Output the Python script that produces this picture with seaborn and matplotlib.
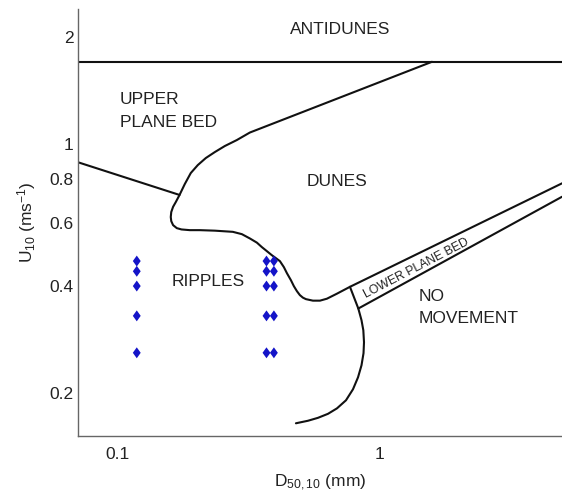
import matplotlib
matplotlib.use("Agg")
import matplotlib.pyplot as plt
import seaborn as sns
import pandas as pd
from matplotlib.ticker import NullFormatter
from matplotlib.path import Path
from matplotlib.markers import MarkerStyle

# ---------------- data ----------------
antidune_x = [0.07, 5.0]
antidune_y = [1.70, 1.70]

upb_x = [0.07, 0.172]
upb_y = [0.89, 0.72]

dune_x = [1.59, 0.3196, 0.2849, 0.2563, 0.2348, 0.2168, 0.2020, 0.1899, 0.1801, 0.172,
          0.1664, 0.1625, 0.1599, 0.1592, 0.1599, 0.1625, 0.1679, 0.175, 0.1883, 0.2056,
          0.2348, 0.2751, 0.2978, 0.3196, 0.3400, 0.3553, 0.3713, 0.388, 0.4020, 0.4165,
          0.4313, 0.443, 0.4589, 0.471, 0.4838, 0.4967, 0.5101, 0.5238, 0.557, 0.5926,
          0.630, 0.688, 0.772, 5.0]
dune_y = [1.70, 1.077, 1.026, 0.9872, 0.9496, 0.9136, 0.8730, 0.8293, 0.7722, 0.72,
          0.6877, 0.667, 0.6449, 0.6243, 0.6081, 0.5926, 0.5812, 0.5763, 0.5737, 0.5737,
          0.5718, 0.5675, 0.5591, 0.5438, 0.5293, 0.5142, 0.5010, 0.488, 0.4789, 0.4697,
          0.4519, 0.4346, 0.4154, 0.3997, 0.3870, 0.3772, 0.3711, 0.3676, 0.364, 0.364,
          0.3686, 0.3807, 0.398, 0.776]

nomove_x = [0.772, 0.831, 0.8547, 0.8685, 0.8737, 0.870, 0.8547, 0.8289, 0.7929, 0.7455,
            0.6887, 0.6362, 0.5822, 0.5331, 0.4796]
nomove_y = [0.398, 0.346, 0.3208, 0.3007, 0.2783, 0.2594, 0.2399, 0.2220, 0.2055, 0.1914,
            0.1817, 0.1754, 0.1709, 0.1677, 0.165]

lpb_x = [0.831, 5.0]
lpb_y = [0.346, 0.7116]

obs_d = [0.118, 0.37, 0.395]
obs_u = [0.47, 0.44, 0.40, 0.33, 0.26]

ytick_vals = [0.2, 0.4, 0.6, 0.8, 1, 2]
ytick_labels = ["0.2", "0.4", "0.6", "0.8", "1", "2"]
xtick_vals = [0.1, 1]
xtick_labels = ["0.1", "1"]

# ---------------- style ----------------
sns.set_theme(style="white")
plt.rcParams["font.family"] = ["Liberation Sans", "DejaVu Sans"]
plt.rcParams["mathtext.default"] = "regular"

fig = plt.figure(figsize=(5.62, 4.93), dpi=100)
ax = fig.add_axes([77.5 / 562, (493 - 436) / 493, (562 - 77.5) / 562, (436 - 9) / 493])

curves = [
    ("antidunes", antidune_x, antidune_y),
    ("upb", upb_x, upb_y),
    ("dunes", dune_x, dune_y),
    ("nomove", nomove_x, nomove_y),
    ("lpb", lpb_x, lpb_y),
]
for name, xs, ys in curves:
    df = pd.DataFrame({"D": xs, "U": ys})
    sns.lineplot(data=df, x="D", y="U", sort=False, estimator=None,
                 color="#111111", linewidth=1.5, ax=ax)

diamond = MarkerStyle(Path([(0, 1), (0.72, 0), (0, -1), (-0.72, 0), (0, 1)], closed=True))
pts = pd.DataFrame([(d, u) for d in obs_d for u in obs_u], columns=["D", "U"])
sns.scatterplot(data=pts, x="D", y="U", marker=diamond, s=62, color="#1414c8",
                edgecolor="none", ax=ax, zorder=5)

ax.set_xscale("log")
ax.set_yscale("log")
ax.set_xlim(0.07, 5.0)
ax.set_ylim(0.152, 2.39)

ax.set_yticks(ytick_vals, ytick_labels)
ax.set_yticks([0.3, 0.5, 0.7, 0.9], minor=True)
ax.set_xticks(xtick_vals, xtick_labels)
ax.set_xticks([0.08, 0.09, 0.2, 0.3, 0.4, 0.5, 0.6, 0.7, 0.8, 0.9, 2, 3, 4, 5], minor=True)
ax.xaxis.set_minor_formatter(NullFormatter())
ax.yaxis.set_minor_formatter(NullFormatter())

ax.tick_params(axis="both", which="major", direction="in", length=4, width=0.8,
               colors="#888888", labelcolor="#222222", labelsize=12.5)
ax.tick_params(axis="both", which="minor", direction="in", length=2.5, width=0.7,
               colors="#aaaaaa")
ax.tick_params(axis="x", which="major", pad=8)
ax.tick_params(axis="y", which="major", pad=3)

for side in ["top", "right"]:
    ax.spines[side].set_visible(False)
for side in ["left", "bottom"]:
    ax.spines[side].set_color("#666666")
    ax.spines[side].set_linewidth(1.0)

ax.set_xlabel("D$_{50,10}$ (mm)", fontsize=12.5, color="#222222")
ax.set_ylabel("U$_{10}$ (ms$^{-1}$)", fontsize=12.5, color="#222222")
ax.xaxis.set_label_coords(0.5, -0.086)
ax.yaxis.set_label_coords(-0.082, 0.5)

txt = dict(fontsize=12.5, color="#222222")
ax.text(0.707, 2.10, "ANTIDUNES", ha="center", va="center", **txt)
ax.text(0.1015, 1.329, "UPPER", ha="left", va="center", **txt)
ax.text(0.1015, 1.147, "PLANE BED", ha="left", va="center", **txt)
ax.text(0.688, 0.784, "DUNES", ha="center", va="center", **txt)
ax.text(0.2207, 0.411, "RIPPLES", ha="center", va="center", **txt)
ax.text(1.411, 0.373, "NO", ha="left", va="center", **txt)
ax.text(1.411, 0.3244, "MOVEMENT", ha="left", va="center", **txt)
ax.text(1.382, 0.449, "LOWER PLANE BED", ha="center", va="center",
        rotation=27.5, rotation_mode="anchor", fontsize=8.8, color="#222222")

ax.set_facecolor("white")
fig.savefig("out.png", dpi=100, facecolor="white")
